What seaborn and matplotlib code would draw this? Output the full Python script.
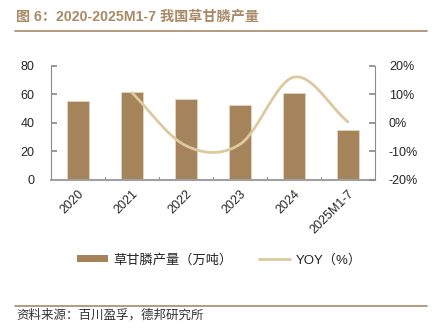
import numpy as np
import pandas as pd
import matplotlib
matplotlib.use("Agg")
import matplotlib.pyplot as plt
import seaborn as sns
from matplotlib.lines import Line2D
from matplotlib.patches import Patch
from matplotlib.ticker import FuncFormatter

years = ["2020", "2021", "2022", "2023", "2024", "2025M1-7"]
output = [55.5, 61.4, 56.5, 52.3, 60.9, 35.2]
yoy_years = ["2021", "2022", "2023", "2024", "2025M1-7"]
yoy = [10.5, -8.0, -7.5, 16.0, 0.3]

title = "图 6：2020-2025M1-7 我国草甘膦产量"
source = "资料来源：百川盈孚，德邦研究所"
bar_label = "草甘膦产量（万吨）"
line_label = "YOY（%）"

BAR = "#a6845b"
LINE = "#dcc9a0"
BROWN = "#a88a66"
GRAY = "#8c8c8c"

sns.set_theme(style="white")
plt.rcParams["font.family"] = ["Liberation Sans", "Noto Sans CJK SC", "DejaVu Sans"]

fig = plt.figure(figsize=(4.36, 3.33), dpi=100)
ax = fig.add_axes([51/436, 1-180/333, 324/436, 114.3/333])

df = pd.DataFrame({"year": years, "val": output})
sns.barplot(data=df, x="year", y="val", color=BAR, width=0.4, ax=ax,
            edgecolor="#e6d6c0", linewidth=0.6, saturation=1)
ax.set_xlim(-0.5, 5.5)
ax.set_ylim(0, 80)
ax.set_yticks([0, 20, 40, 60, 80])
ax.set_xlabel("")
ax.set_ylabel("")

# smoothed YOY line (Catmull-Rom through the data points)
xs = np.array([years.index(y) for y in yoy_years], dtype=float)
ys = np.array(yoy, dtype=float)
px = np.concatenate([[2*xs[0]-xs[1]], xs, [2*xs[-1]-xs[-2]]])
py = np.concatenate([[2*ys[0]-ys[1]], ys, [2*ys[-1]-ys[-2]]])
cx, cy = [], []
t = np.linspace(0, 1, 30)
for i in range(1, len(px)-2):
    p0, p1, p2, p3 = [np.array([px[j], py[j]]) for j in (i-1, i, i+1, i+2)]
    for tt in t:
        pt = 0.5*((2*p1) + (-p0+p2)*tt + (2*p0-5*p1+4*p2-p3)*tt**2 + (-p0+3*p1-3*p2+p3)*tt**3)
        cx.append(pt[0]); cy.append(pt[1])
ax2 = ax.twinx()
sns.lineplot(x=cx, y=cy, ax=ax2, color=LINE, linewidth=2, sort=False, estimator=None)
ax2.set_ylim(-20, 20)
ax2.set_yticks([-20, -10, 0, 10, 20])
ax2.yaxis.set_major_formatter(FuncFormatter(lambda v, p: f"{int(v)}%"))
ax2.set_xlim(-0.5, 5.5)

for a in (ax, ax2):
    for s in a.spines.values():
        s.set_visible(False)
ax.spines["left"].set_visible(True)
ax.spines["left"].set_color(GRAY)
ax.spines["left"].set_linewidth(0.8)
ax.spines["bottom"].set_visible(True)
ax.spines["bottom"].set_color("#a0a0a0")
ax.spines["bottom"].set_linewidth(1.5)
ax2.spines["right"].set_visible(True)
ax2.spines["right"].set_color(GRAY)
ax2.spines["right"].set_linewidth(0.8)

ax.tick_params(axis="y", direction="in", length=4, color=GRAY, labelsize=9, pad=12, left=True)
ax2.tick_params(axis="y", direction="in", length=4, color=GRAY, labelsize=9, pad=10, right=True)
ax.set_xticks(np.arange(6))
ax.set_xticklabels(years, rotation=45, ha="right", rotation_mode="anchor", fontsize=9)
ax.tick_params(axis="x", length=0, pad=6)
for xm in np.arange(0.5, 5.0, 1.0):
    ax.plot([xm, xm], [0, 1.8], color=GRAY, lw=0.8, clip_on=False)

# title and rules
fig.text(16/436, 1-17/333, title, fontsize=10.2, fontweight="bold", color=BROWN,
         va="center", ha="left", family=["Liberation Sans", "Noto Sans CJK SC"])
fig.add_artist(Line2D([15/436, 427/436], [1-31/333]*2, color=BROWN, lw=1.2))
fig.add_artist(Line2D([15/436, 427/436], [1-306/333]*2, color=BROWN, lw=1.2))
fig.text(16/436, 1-315/333, source, fontsize=9, color="#333333", va="center", ha="left",
         family=["Noto Sans CJK SC", "DejaVu Sans"])

handles = [Patch(facecolor=BAR, edgecolor="none"), Line2D([], [], color=LINE, lw=2)]
leg = fig.legend(handles, [bar_label, line_label], loc="center", bbox_to_anchor=(0.503, 1-260/333),
                 ncol=2, frameon=False, fontsize=9.5, handlelength=2.35, handleheight=0.5,
                 columnspacing=2.0, handletextpad=0.4)

fig.savefig("out.png", dpi=100)
